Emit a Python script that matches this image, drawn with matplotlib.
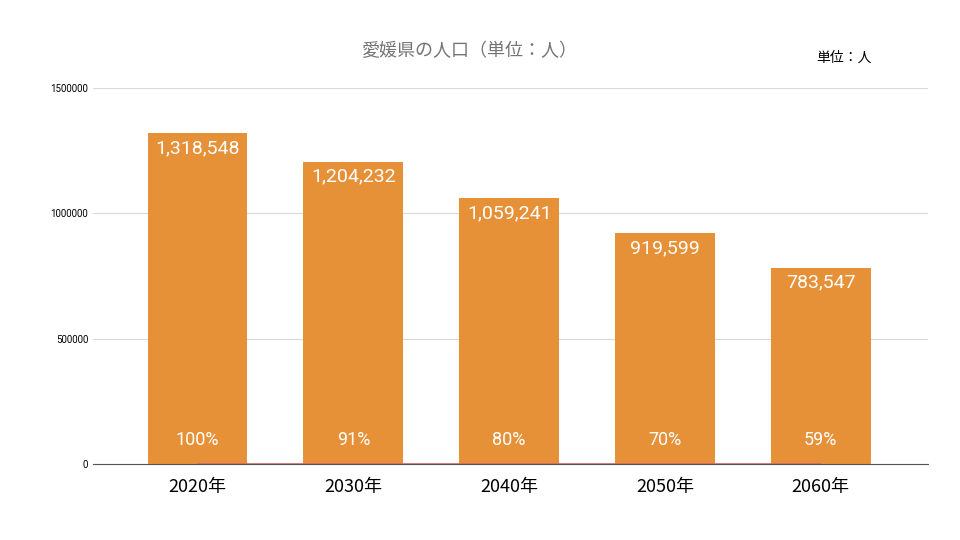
import matplotlib
matplotlib.use("Agg")
import matplotlib.pyplot as plt

plt.rcParams['font.family'] = ['Noto Sans CJK JP', 'DejaVu Sans']

years = ["2020年", "2030年", "2040年", "2050年", "2060年"]
population = [1318548, 1204232, 1059241, 919599, 783547]
ratio = [1.00, 0.91, 0.80, 0.70, 0.59]
ratio_labels = ["100%", "91%", "80%", "70%", "59%"]

fig = plt.figure(figsize=(9.6, 5.4), dpi=100)
ax = fig.add_axes([0.097, 0.141, 0.870, 0.696])

x = range(len(years))
ax.bar(x, population, width=0.64, color="#e69138", zorder=2)
ax.plot(x, ratio, color="#e06666", linewidth=1.2, zorder=3)

for i, (v, r) in enumerate(zip(population, ratio_labels)):
    ax.text(i, v - 22000, f"{v:,}", ha="center", va="top", color="white",
            fontsize=14, family=["Roboto", "DejaVu Sans"], zorder=4)
    ax.text(i, 95000, r, ha="center", va="center", color="white",
            fontsize=13, family=["Roboto", "DejaVu Sans"], zorder=4)

ax.set_xlim(-0.67, 4.69)
ax.set_ylim(0, 1500000)
ax.set_yticks([0, 500000, 1000000, 1500000])
ax.set_yticklabels(["0", "500000", "1000000", "1500000"], fontsize=7,
                   family=["Roboto", "DejaVu Sans"])
ax.set_xticks(list(x))
ax.set_xticklabels(years, fontsize=13)
ax.tick_params(length=0)
ax.tick_params(axis="x", pad=10)
ax.grid(axis="y", color="#d9d9d9", linewidth=0.8, zorder=0)
for s in ["top", "right", "left"]:
    ax.spines[s].set_visible(False)
ax.spines["bottom"].set_color("#555555")
ax.spines["bottom"].set_zorder(5)

fig.text(0.49, 0.905, "愛媛県の人口（単位：人）", ha="center", va="center",
         fontsize=13, color="#757575")
fig.text(0.85, 0.893, "単位：人", ha="left", va="center", fontsize=10, color="black")

fig.savefig("out.png", dpi=100)
plt.close(fig)
